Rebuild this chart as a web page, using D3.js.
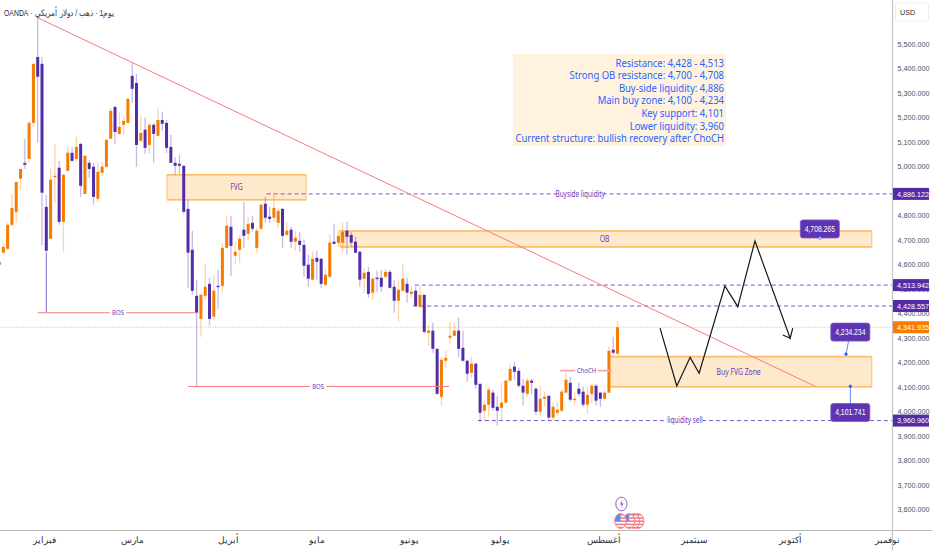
<!DOCTYPE html>
<html><head><meta charset="utf-8">
<script src="https://cdn.jsdelivr.net/npm/d3@7/dist/d3.min.js"></script>
<style>html,body{margin:0;padding:0;background:#fff;overflow:hidden}svg{display:block}</style>
</head><body><svg id="c" width="932" height="550"></svg>
<script>
const opens=[4609,4646,4662,4760,4813,4948,5013,5029,5176,5445,5417,4833,4703,4956,4993,4772,4980,5054,5029,5090,4886,5013,4997,4866,4972,4997,5111,5241,5131,5168,5176,5368,5339,5103,5148,5086,5168,5123,5188,5176,5078,5013,5009,5001,4825,4658,4470,4376,4470,4519,4385,4511,4511,4666,4752,4634,4658,4740,4723,4768,4666,4744,4846,4793,4789,4768,4825,4719,4740,4691,4695,4678,4597,4536,4625,4621,4515,4548,4691,4687,4687,4736,4719,4691,4650,4540,4568,4483,4544,4544,4548,4568,4507,4450,4491,4519,4478,4491,4425,4474,4319,4328,4254,4058,4205,4299,4307,4328,4258,4205,4156,4193,4111,4001,4026,4075,4017,4013,4034,4124,4181,4164,4103,4070,4124,4091,3997,4050,4062,3973,3993,4001,4075,4115,4046,4091,4079,4026,4070,4103,4075,4050,4075,4250,4234];
const highs=[4617,4687,4768,4886,4935,4988,5111,5184,5417,5605,5445,4882,4993,5090,5021,4968,5082,5078,5119,5095,5042,5025,5013,5013,5017,5107,5237,5246,5217,5201,5278,5421,5376,5205,5197,5176,5176,5237,5221,5188,5127,5037,5046,5001,4862,4736,4536,4483,4601,4544,4556,4576,4687,4793,4797,4691,4719,4854,4793,4797,4748,4846,4874,4833,4886,4829,4829,4768,4752,4736,4731,4699,4638,4650,4654,4625,4585,4719,4764,4740,4768,4772,4731,4711,4654,4585,4589,4548,4572,4576,4580,4576,4536,4536,4597,4544,4511,4507,4511,4474,4352,4360,4254,4221,4246,4364,4360,4381,4328,4209,4221,4197,4111,4042,4099,4087,4062,4115,4128,4193,4201,4177,4132,4136,4132,4095,4103,4079,4062,4034,4038,4087,4164,4140,4079,4115,4099,4099,4111,4111,4079,4083,4262,4303,4368];
const lows=[4593,4646,4658,4752,4768,4899,4988,5013,5160,5095,4678,4646,4703,4850,4760,4650,4980,5017,5017,4874,4886,4952,4842,4854,4960,4993,5111,5090,5127,5127,5172,5258,4997,5099,5050,5050,5013,5119,5144,5054,5013,4964,4968,4805,4503,4474,4099,4303,4454,4348,4372,4417,4483,4662,4552,4597,4605,4666,4699,4731,4646,4740,4768,4768,4772,4748,4666,4711,4666,4654,4650,4548,4507,4532,4536,4503,4511,4544,4682,4670,4646,4638,4670,4646,4507,4483,4462,4454,4487,4487,4544,4499,4401,4364,4487,4442,4462,4425,4421,4315,4266,4238,4066,4022,4172,4270,4307,4221,4201,4119,4136,4091,3956,3960,3977,4001,3940,3960,4030,4119,4128,4095,4022,4058,4070,3985,3981,4017,3964,3960,3981,3997,4075,4038,4022,4058,4017,3989,4034,4022,4017,4042,4075,4230,4230];
const closes=[4597,4670,4760,4829,4935,4988,5005,5176,5417,5364,4891,4654,4944,4960,4772,4964,5054,5021,5078,4919,5042,4988,4874,4976,4997,5107,5225,5139,5160,5184,5274,5315,5086,5135,5074,5168,5131,5188,5172,5074,5013,5001,5001,4813,4646,4491,4401,4474,4507,4376,4491,4507,4666,4756,4674,4650,4703,4715,4764,4744,4736,4842,4789,4784,4829,4817,4715,4736,4691,4707,4678,4593,4540,4621,4609,4519,4556,4687,4682,4715,4731,4711,4687,4646,4536,4564,4478,4540,4540,4507,4568,4503,4450,4495,4540,4483,4487,4429,4474,4323,4328,4254,4070,4209,4217,4307,4328,4254,4205,4152,4193,4107,3993,4026,4087,4013,4001,4034,4124,4172,4160,4103,4075,4124,4115,3997,4050,4058,3973,4017,4005,4079,4128,4046,4050,4070,4026,4066,4103,4042,4050,4075,4246,4238,4342];

const monthIdx=[10.5,31,53.2,74,95.4,116.6,140.8,161.8,184.1,206.8];
const monthNames=["فبراير","مارس","أبريل","مايو","يونيو","يوليو","أغسطس","سبتمبر","أكتوبر","نوفمبر"];
const priceTicks=[5500,5400,5300,5200,5100,5000,4900,4800,4700,4600,4500,4400,4300,4200,4100,4000,3900,3800,3700,3600];

const trendIdx=[9,190.1], trendPrice=[5605,4100];
const zigIdx=[153.9,157.8,160.9,163,169,172,176,184.2,184.8];
const zigPrice=[4338,4102,4219,4154,4510,4426,4694,4297,4338];
const arrowIdx=[182.5,184.2], arrowPrice=[4310,4297];

const zoneNames=["FVG","OB","Buy FVG Zone"];
const zoneStart=[39.1,79.4,141.9], zoneEnd=[71.5,203.2,203.2];
const zoneTop=[4964,4735,4222], zoneBottom=[4862,4670,4099];
const zoneLabelIdx=[55.3,141,172.2];

const levelNames=["Buyside liquidity","","","liquidity sell"];
const levelPrice=[4886.122,4513.942,4428.557,3960.96];
const levelStart=[62.3,96.8,96.4,111.5];
const levelLabelIdx=[135.3,0,0,159.7];
const lastPrice=4341.935;

const bosNames=["BOS","BOS","ChoCH"];
const bosPrice=[4401,4100,4165];
const bosStart=[9,44.06,130.6], bosEnd=[46.25,104.8,142.7];
const bosLabelIdx=[27.7,74.3,136.8];
const stemIdx=11, stemFrom=4646, stemTo=4401;

const calloutVal=[4708.265,4234.234,4101.741];
const calloutIdx=[191.1,198.2,198.2], calloutPrice=[4743,4322,3994];
const anchorIdx=[191.1,197.2,198.2], anchorPrice=[4706,4232,4101];

const flagIdx=[148.8,147.8,146.7,144.7];
const boltIdx=144.9;

const noteLines=["Resistance: 4,428 - 4,513","Strong OB resistance: 4,700 - 4,708","Buy-side liquidity: 4,886","Main buy zone: 4,100 - 4,234","Key support: 4,101","Lower liquidity: 3,960","Current structure: bullish recovery after ChoCH"];

const W=932,H=550,axisX=892.5,axisY=530.5;
const x=d3.scaleLinear().domain([0,208]).range([-0.95,892.4]);
const y=d3.scaleLinear().domain([3600,5500]).range([509,43.5]);
const svg=d3.select("#c");
const PURPLE="#512da8",ORANGE="#f57c00",LABEL="#673ab7",RED="#f77c80",SANS="'Liberation Sans',Arial,sans-serif",NOTE="'Noto Sans',sans-serif";
const squeeze=(sel,k)=>sel.each(function(){this.setAttribute("textLength",this.getComputedTextLength()*k);this.setAttribute("lengthAdjust","spacingAndGlyphs");});

// zones under candles
const z=svg.append("g");
zoneNames.forEach((n,i)=>{
  const x0=x(zoneStart[i]),x1=x(zoneEnd[i]),y0=y(zoneTop[i]),y1=y(zoneBottom[i]);
  z.append("rect").attr("x",x0).attr("y",y0).attr("width",x1-x0).attr("height",y1-y0).attr("fill","#ffe9cc").attr("stroke","#ffbe6b").attr("stroke-width",1);
  z.append("line").attr("x1",x0).attr("x2",x1).attr("y1",y0).attr("y2",y0).attr("stroke","#ffbe6b").attr("stroke-width",1.6);
  z.append("line").attr("x1",x0).attr("x2",x1).attr("y1",y1).attr("y2",y1).attr("stroke","#ffbe6b").attr("stroke-width",1.6);
});

// current price line
svg.append("line").attr("x1",x(0)).attr("x2",x(208)).attr("y1",y(lastPrice)).attr("y2",y(lastPrice)).attr("stroke","#f9b877").attr("stroke-width",1).attr("stroke-dasharray","1 1.4");

// dashed levels
levelPrice.forEach((p,i)=>{
  svg.append("line").attr("x1",x(levelStart[i])).attr("x2",x(208)).attr("y1",y(p)).attr("y2",y(p)).attr("stroke","#7e57c2").attr("stroke-width",1).attr("stroke-dasharray","4 3");
});

// candles
const idx=d3.range(opens.length);
const col=i=>closes[i]>=opens[i]?ORANGE:PURPLE;
svg.append("g").selectAll("line").data(idx).join("line")
  .attr("x1",i=>x(i)).attr("x2",i=>x(i)).attr("y1",i=>y(highs[i])).attr("y2",i=>y(lows[i]))
  .attr("stroke",col).attr("stroke-opacity",0.33).attr("stroke-width",1.3);
svg.append("g").selectAll("rect").data(idx).join("rect")
  .attr("x",i=>x(i)-1.5).attr("width",3)
  .attr("y",i=>y(Math.max(opens[i],closes[i])))
  .attr("height",i=>Math.max(1.4,Math.abs(y(opens[i])-y(closes[i]))))
  .attr("fill",col);

// stems
svg.append("line").attr("x1",x(stemIdx)).attr("x2",x(stemIdx)).attr("y1",y(stemFrom)).attr("y2",y(stemTo)).attr("stroke","#7e57c2").attr("stroke-width",0.9);

// BOS + ChoCH
bosNames.forEach((n,i)=>{
  svg.append("line").attr("x1",x(bosStart[i])).attr("x2",x(bosEnd[i])).attr("y1",y(bosPrice[i])).attr("y2",y(bosPrice[i])).attr("stroke",i==2?"#f8a5ac":RED).attr("stroke-width",i==2?1.6:1.2);
});

// trend
svg.append("line").attr("x1",x(trendIdx[0])).attr("y1",y(trendPrice[0])).attr("x2",x(trendIdx[1])).attr("y2",y(trendPrice[1])).attr("stroke",RED).attr("stroke-width",1);

// zigzag
const lineGen=d3.line().x(d=>x(d[0])).y(d=>y(d[1]));
svg.append("path").attr("d",lineGen(zigIdx.map((v,i)=>[v,zigPrice[i]]))).attr("fill","none").attr("stroke","#131722").attr("stroke-width",1.2);
svg.append("path").attr("d",lineGen(arrowIdx.map((v,i)=>[v,arrowPrice[i]]))).attr("fill","none").attr("stroke","#131722").attr("stroke-width",1.2);

// inline labels
const label=(lx,ly,t,fs,halo)=>{
  const g=svg.append("g");
  const tx=g.append("text").attr("x",lx).attr("y",ly).attr("dy","0.35em").attr("text-anchor","middle").attr("font-family",NOTE).attr("font-size",fs).attr("fill",LABEL).text(t);
  squeeze(tx,0.8);
  if(halo){const w=tx.node().getComputedTextLength()*0.8;g.insert("rect","text").attr("x",lx-w/2-3.5).attr("y",ly-5).attr("width",w+7).attr("height",10).attr("fill","#fff");}
};
zoneNames.forEach((n,i)=>label(x(zoneLabelIdx[i]),y((zoneTop[i]+zoneBottom[i])/2),n,8.5,false));
levelNames.forEach((n,i)=>{if(n)label(x(levelLabelIdx[i]),y(levelPrice[i]),n,8,true);});
bosNames.forEach((n,i)=>label(x(bosLabelIdx[i]),y(bosPrice[i]),n,7.5,true));

// note box
const nb=svg.append("g");
nb.append("rect").attr("x",513).attr("y",54).attr("width",213).attr("height",92).attr("fill","#fff3e0");
noteLines.forEach((t,i)=>{
  squeeze(nb.append("text").attr("x",724).attr("y",62.6+i*12.6).attr("dy","0.36em").attr("text-anchor","end").attr("font-family",NOTE).attr("font-size",11).attr("fill","#2962ff").text(t),0.86);
});

// callouts
calloutVal.forEach((v,i)=>{
  const cx=x(calloutIdx[i]),cy=y(calloutPrice[i]),ax=x(anchorIdx[i]),ay=y(anchorPrice[i]);
  if(i>0)svg.append("line").attr("x1",cx).attr("x2",ax).attr("y1",cy).attr("y2",ay).attr("stroke","#5b8def").attr("stroke-width",1);
  svg.append("rect").attr("x",cx-19.5).attr("y",cy-9).attr("width",39).attr("height",18).attr("rx",2.5).attr("fill","#5e35b1").attr("stroke","#7e57c2").attr("stroke-width",0.8);
  squeeze(svg.append("text").attr("x",cx).attr("y",cy).attr("dy","0.35em").attr("text-anchor","middle").attr("font-family",SANS).attr("font-size",8.5).attr("fill","#fff").text(d3.format(",.3f")(v)),0.8);
  svg.append("circle").attr("cx",ax).attr("cy",ay).attr("r",1.3).attr("fill",i==0?"#fff":"#2962ff").attr("stroke","#2962ff").attr("stroke-width",0.7);
});

// icons
const ic=svg.append("g");
ic.append("ellipse").attr("cx",x(boltIdx)).attr("cy",504).attr("rx",5.6).attr("ry",6.8).attr("fill","#fff").attr("stroke","#8e5cc8").attr("stroke-width",1);
ic.append("path").attr("d",`M${x(boltIdx)+1},500l-2.4,4.4h1.9l-0.9,3.6l2.6,-4.6h-1.9z`).attr("fill","#7e57c2");
flagIdx.forEach((f,i)=>{
  const cx=x(f),cy=521,id="fl"+i;
  ic.append("clipPath").attr("id",id).append("ellipse").attr("cx",cx).attr("cy",cy).attr("rx",5.8).attr("ry",7.4);
  const g=ic.append("g").attr("clip-path",`url(#${id})`);
  g.append("rect").attr("x",cx-7).attr("y",cy-8).attr("width",14).attr("height",16).attr("fill","#fff");
  d3.range(5).forEach(j=>g.append("rect").attr("x",cx-7).attr("y",cy-7+j*3.2).attr("width",14).attr("height",1.6).attr("fill","#f77c80"));
  g.append("rect").attr("x",cx-6).attr("y",cy-7.5).attr("width",6).attr("height",7.5).attr("fill","#5b8def");
  ic.append("ellipse").attr("cx",cx).attr("cy",cy).attr("rx",5.8).attr("ry",7.4).attr("fill","none").attr("stroke","#f77c80").attr("stroke-width",1);
});

// axes
svg.append("rect").attr("x",axisX).attr("y",0).attr("width",W-axisX).attr("height",H).attr("fill","#fff");
svg.append("rect").attr("x",0).attr("y",axisY).attr("width",W).attr("height",H-axisY).attr("fill","#fff");
const ya=svg.append("g").attr("transform",`translate(${axisX},0)`).call(d3.axisRight(y).tickValues(priceTicks).tickSize(0).tickPadding(5).tickFormat(d3.format(",.3f")));
ya.select(".domain").remove();
ya.selectAll("text").attr("font-family",SANS).attr("font-size",8).attr("fill","#4a4f5c").attr("text-anchor","start");
squeeze(ya.selectAll("text"),0.9);
const xa=svg.append("g").attr("transform",`translate(0,${axisY})`).call(d3.axisBottom(x).tickValues(monthIdx).tickSize(0).tickPadding(6).tickFormat((d,i)=>monthNames[i]));
xa.select(".domain").remove();
xa.selectAll("text").attr("font-family",SANS).attr("font-size",8.6).attr("fill","#2a2e39");
svg.append("line").attr("x1",axisX).attr("x2",axisX).attr("y1",0).attr("y2",H).attr("stroke","#c4c4c4").attr("stroke-width",1.2);
svg.append("line").attr("x1",0).attr("x2",W).attr("y1",axisY).attr("y2",axisY).attr("stroke","#b8b8b8").attr("stroke-width",1);

// price tags
const tag=(p,fill)=>{
  svg.append("rect").attr("x",axisX+0.5).attr("y",y(p)-6).attr("width",36).attr("height",12).attr("fill",fill);
  squeeze(svg.append("text").attr("x",axisX+4.5).attr("y",y(p)).attr("dy","0.35em").attr("font-family",SANS).attr("font-size",8).attr("fill","#fff").text(d3.format(",.3f")(p)),0.9);
};
levelPrice.forEach(p=>tag(p,PURPLE));
tag(lastPrice,ORANGE);

// USD
svg.append("rect").attr("x",895.5).attr("y",3).attr("width",33).attr("height",18).attr("rx",2.5).attr("fill","#fff").attr("stroke","#eee");
squeeze(svg.append("text").attr("x",900).attr("y",12).attr("dy","0.35em").attr("font-family",SANS).attr("font-size",8).attr("fill","#2a2e39").text("USD"),0.9);

// title
const title=svg.append("text").attr("x",4).attr("y",12.5).attr("dy","0.35em").attr("text-anchor","end").style("direction","rtl").attr("font-family",SANS).attr("font-size",8.6).attr("fill","#2a2e39").text("يوم1 · ذهب / دولار أمريكي · OANDA");
squeeze(title,0.8);
</script></body></html>
